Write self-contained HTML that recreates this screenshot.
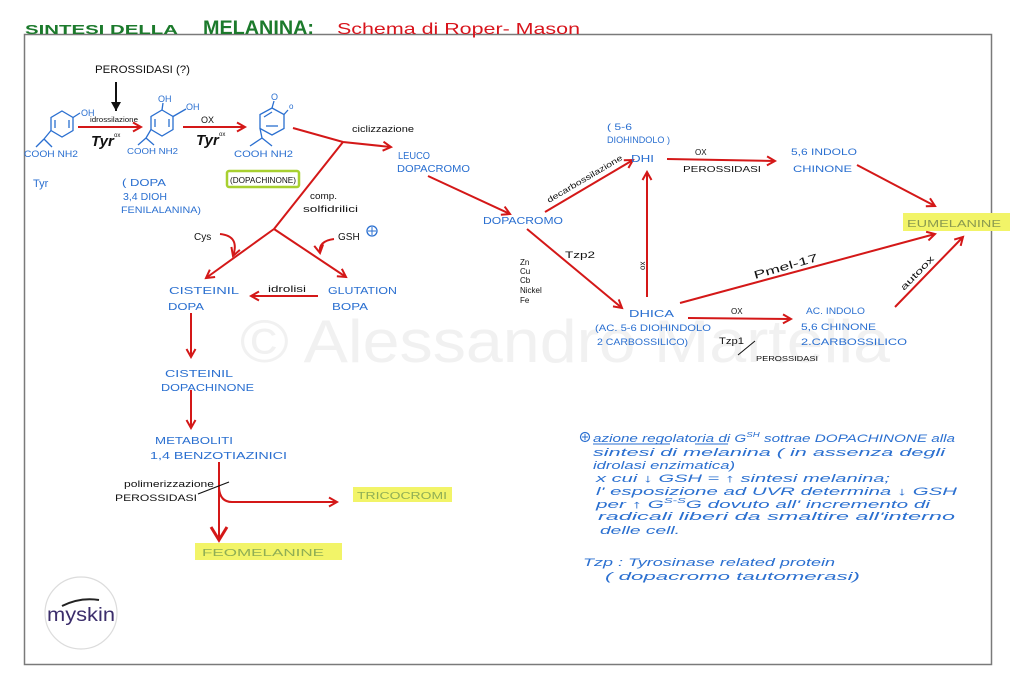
<!DOCTYPE html>
<html><head><meta charset="utf-8"><style>
html,body{margin:0;padding:0;background:#fff;}
svg{display:block;}
text{font-family:"Liberation Sans",sans-serif;}
.b{fill:#2a6fd0;}
.k{fill:#111;}
.r{stroke:#d41818;stroke-width:2;fill:none;}
.bl{stroke:#2a6fd0;stroke-width:1.3;fill:none;}
</style></head><body>
<svg width="1024" height="694" viewBox="0 0 1024 694" xmlns="http://www.w3.org/2000/svg">
<defs>
<marker id="a" markerWidth="12" markerHeight="12" refX="10" refY="6" orient="auto" markerUnits="userSpaceOnUse"><path d="M2,1.5 L10,6 L2,10.5" fill="none" stroke="#d41818" stroke-width="2"/></marker>
<marker id="ab" markerWidth="20" markerHeight="20" refX="15" refY="10" orient="auto" markerUnits="userSpaceOnUse"><path d="M2,2 L15,10 L2,18" fill="none" stroke="#d41818" stroke-width="3"/></marker>
<marker id="k" markerWidth="12" markerHeight="12" refX="10" refY="6" orient="auto" markerUnits="userSpaceOnUse"><path d="M1,1 L10,6 L1,11 Z" fill="#111"/></marker>
</defs>
<rect width="1024" height="694" fill="#fff"/>
<!-- watermark -->
<text x="240" y="362" font-size="60" fill="#f1f1f1" textLength="650" lengthAdjust="spacingAndGlyphs">© Alessandro Martella</text>
<!-- frame -->
<rect x="24.5" y="34.5" width="967" height="630" fill="none" stroke="#7a7a7a" stroke-width="1.5"/>
<!-- title -->
<text x="25" y="34" font-size="13" font-weight="bold" fill="#1c7a2c" textLength="153" lengthAdjust="spacingAndGlyphs">SINTESI DELLA</text>
<text x="203" y="34" font-size="19" font-weight="bold" fill="#1c7a2c" textLength="111" lengthAdjust="spacingAndGlyphs">MELANINA:</text>
<text x="337" y="34" font-size="16" fill="#d8141c" textLength="243" lengthAdjust="spacingAndGlyphs">Schema di Roper- Mason</text>

<!-- PEROSSIDASI (?) -->
<text x="95" y="73" font-size="11" class="k" textLength="95" lengthAdjust="spacingAndGlyphs">PEROSSIDASI (?)</text>
<line x1="116" y1="82" x2="116" y2="111" stroke="#111" stroke-width="2" marker-end="url(#k)"/>

<!-- Tyr molecule -->
<g class="bl">
<polygon points="62,111 73,117.5 73,130.5 62,137 51,130.5 51,117.5"/>
<line x1="55" y1="120" x2="55" y2="128"/><line x1="69" y1="120" x2="69" y2="128"/>
<line x1="73" y1="117.5" x2="80" y2="113"/>
<line x1="51" y1="130.5" x2="44" y2="139"/><line x1="44" y1="139" x2="36" y2="147"/><line x1="44" y1="139" x2="52" y2="147"/>
</g>
<text x="81" y="116" font-size="9" class="b">OH</text>
<text x="24" y="157" font-size="9" class="b" textLength="54" lengthAdjust="spacingAndGlyphs">COOH NH2</text>
<line x1="78" y1="127" x2="141" y2="127" class="r" marker-end="url(#a)"/>
<text x="90" y="122" font-size="7" class="k" textLength="48" lengthAdjust="spacingAndGlyphs">idrossilazione</text>
<text x="91" y="146" font-size="15" font-style="italic" font-weight="bold" class="k">Tyr</text>
<text x="114" y="137" font-size="6" class="k">ox</text>

<!-- DOPA molecule -->
<g class="bl">
<polygon points="162,110 173,116.5 173,129.5 162,136 151,129.5 151,116.5"/>
<line x1="155" y1="119" x2="155" y2="127"/><line x1="169" y1="119" x2="169" y2="127"/>
<line x1="162" y1="110" x2="163" y2="103"/>
<line x1="173" y1="116.5" x2="186" y2="109"/>
<line x1="151" y1="129.5" x2="146" y2="138"/><line x1="146" y1="138" x2="138" y2="145"/><line x1="146" y1="138" x2="154" y2="145"/>
</g>
<text x="158" y="102" font-size="9" class="b">OH</text>
<text x="186" y="110" font-size="9" class="b">OH</text>
<text x="127" y="154" font-size="8" class="b" textLength="51" lengthAdjust="spacingAndGlyphs">COOH NH2</text>
<line x1="183" y1="127" x2="245" y2="127" class="r" marker-end="url(#a)"/>
<text x="201" y="123" font-size="9" class="k">OX</text>
<text x="196" y="145" font-size="15" font-style="italic" font-weight="bold" class="k">Tyr</text>
<text x="219" y="136" font-size="6" class="k">ox</text>

<!-- Dopachinone molecule -->
<g class="bl">
<polygon points="272,108 284,114.5 284,128.5 272,135 260,128.5 260,114.5"/>
<line x1="264" y1="117" x2="272" y2="112"/><line x1="266" y1="126" x2="278" y2="126"/>
<line x1="272" y1="108" x2="274" y2="101"/>
<line x1="284" y1="114.5" x2="288" y2="110"/>
<line x1="260" y1="128.5" x2="262" y2="138"/><line x1="262" y1="138" x2="250" y2="146"/><line x1="262" y1="138" x2="272" y2="146"/>
</g>
<text x="271" y="100" font-size="9" class="b">O</text>
<text x="289" y="109" font-size="8" class="b">o</text>
<text x="234" y="157" font-size="9" class="b" textLength="59" lengthAdjust="spacingAndGlyphs">COOH NH2</text>

<!-- labels below molecules -->
<text x="33" y="187" font-size="11" class="b">Tyr</text>
<text x="122" y="186" font-size="10" class="b" textLength="44" lengthAdjust="spacingAndGlyphs">( DOPA</text>
<text x="123" y="200" font-size="10" class="b" textLength="44" lengthAdjust="spacingAndGlyphs">3,4 DIOH</text>
<text x="121" y="213" font-size="9" class="b" textLength="80" lengthAdjust="spacingAndGlyphs">FENILALANINA)</text>
<rect x="227" y="171" width="72" height="16" rx="2" fill="none" stroke="#a8d030" stroke-width="2.5"/>
<text x="230" y="183" font-size="8" class="k" textLength="66" lengthAdjust="spacingAndGlyphs">(DOPACHINONE)</text>

<!-- dopachinone -> leuco / branch -->
<polyline points="293,128 343,142 391,147" class="r" marker-end="url(#a)"/>
<text x="352" y="132" font-size="9" class="k" textLength="62" lengthAdjust="spacingAndGlyphs">ciclizzazione</text>
<line x1="343" y1="142" x2="274" y2="229" class="r"/>
<text x="310" y="199" font-size="9" class="k" textLength="27" lengthAdjust="spacingAndGlyphs">comp.</text>
<text x="303" y="212" font-size="9" class="k" textLength="55" lengthAdjust="spacingAndGlyphs">solfidrilici</text>
<line x1="274" y1="229" x2="206" y2="278" class="r" marker-end="url(#a)"/>
<line x1="274" y1="229" x2="346" y2="277" class="r" marker-end="url(#a)"/>
<text x="194" y="240" font-size="10" class="k">Cys</text>
<path d="M220,234 Q240,236 233,256" class="r" marker-end="url(#a)"/>
<text x="338" y="240" font-size="10" class="k">GSH</text>
<circle cx="372" cy="231" r="5" fill="none" stroke="#2a6fd0" stroke-width="1.3"/>
<line x1="372" y1="227" x2="372" y2="235" stroke="#2a6fd0" stroke-width="1"/><line x1="368" y1="231" x2="376" y2="231" stroke="#2a6fd0" stroke-width="1"/>
<path d="M334,239 Q318,241 320,253" class="r" marker-end="url(#a)"/>

<text x="169" y="294" font-size="10" class="b" textLength="70" lengthAdjust="spacingAndGlyphs">CISTEINIL</text>
<text x="168" y="310" font-size="10" class="b" textLength="36" lengthAdjust="spacingAndGlyphs">DOPA</text>
<text x="328" y="294" font-size="10" class="b" textLength="69" lengthAdjust="spacingAndGlyphs">GLUTATION</text>
<text x="332" y="310" font-size="10" class="b" textLength="36" lengthAdjust="spacingAndGlyphs">BOPA</text>
<line x1="318" y1="296" x2="251" y2="296" class="r" marker-end="url(#a)"/>
<text x="268" y="292" font-size="9" class="k" textLength="38" lengthAdjust="spacingAndGlyphs">idrolisi</text>
<line x1="191" y1="313" x2="191" y2="357" class="r" marker-end="url(#a)"/>
<text x="165" y="377" font-size="10" class="b" textLength="68" lengthAdjust="spacingAndGlyphs">CISTEINIL</text>
<text x="161" y="391" font-size="10" class="b" textLength="93" lengthAdjust="spacingAndGlyphs">DOPACHINONE</text>
<line x1="191" y1="390" x2="191" y2="428" class="r" marker-end="url(#a)"/>
<text x="155" y="444" font-size="10" class="b" textLength="78" lengthAdjust="spacingAndGlyphs">METABOLITI</text>
<text x="150" y="459" font-size="10" class="b" textLength="137" lengthAdjust="spacingAndGlyphs">1,4 BENZOTIAZINICI</text>
<line x1="219" y1="462" x2="219" y2="540" class="r" stroke-width="2.2" marker-end="url(#ab)"/>
<path d="M219,488 Q220,502 232,502 L337,502" class="r" marker-end="url(#a)"/>
<text x="124" y="487" font-size="9" class="k" textLength="90" lengthAdjust="spacingAndGlyphs">polimerizzazione</text>
<text x="115" y="501" font-size="9" class="k" textLength="82" lengthAdjust="spacingAndGlyphs">PEROSSIDASI</text>
<line x1="198" y1="494" x2="229" y2="482" stroke="#111" stroke-width="1.2"/>
<rect x="353" y="487" width="99" height="15" fill="#f2f468"/>
<text x="357" y="499" font-size="10" fill="#8fae55" textLength="90" lengthAdjust="spacingAndGlyphs">TRICOCROMI</text>
<rect x="195" y="543" width="147" height="17" fill="#f2f468"/>
<text x="202" y="556" font-size="10" fill="#8fae55" textLength="122" lengthAdjust="spacingAndGlyphs">FEOMELANINE</text>

<!-- logo -->
<circle cx="81" cy="613" r="36" fill="#fff" stroke="#dcdcdc" stroke-width="1.2"/>
<path d="M62,606 Q80,597 99,600" fill="none" stroke="#222" stroke-width="2"/>
<text x="47" y="621" font-size="19" fill="#3b2d6b" textLength="68" lengthAdjust="spacingAndGlyphs">myskin</text>

<!-- right side -->
<text x="398" y="159" font-size="10" class="b" textLength="32" lengthAdjust="spacingAndGlyphs">LEUCO</text>
<text x="397" y="172" font-size="10" class="b" textLength="73" lengthAdjust="spacingAndGlyphs">DOPACROMO</text>
<line x1="428" y1="176" x2="510" y2="214" class="r" marker-end="url(#a)"/>
<text x="483" y="224" font-size="10" class="b" textLength="80" lengthAdjust="spacingAndGlyphs">DOPACROMO</text>
<line x1="545" y1="212" x2="633" y2="160" class="r" marker-end="url(#a)"/>
<text x="0" y="0" font-size="8" class="k" textLength="86" lengthAdjust="spacingAndGlyphs" transform="translate(549,203) rotate(-30.5)">decarbossilazione</text>
<text x="607" y="130" font-size="9" class="b" textLength="25" lengthAdjust="spacingAndGlyphs">( 5-6</text>
<text x="607" y="143" font-size="9" class="b" textLength="63" lengthAdjust="spacingAndGlyphs">DIOHINDOLO )</text>
<text x="631" y="162" font-size="10" class="b" textLength="23" lengthAdjust="spacingAndGlyphs">DHI</text>
<line x1="667" y1="159" x2="775" y2="161" class="r" marker-end="url(#a)"/>
<text x="695" y="155" font-size="8" class="k">OX</text>
<text x="683" y="172" font-size="8" class="k" textLength="78" lengthAdjust="spacingAndGlyphs">PEROSSIDASI</text>
<text x="791" y="155" font-size="9" class="b" textLength="66" lengthAdjust="spacingAndGlyphs">5,6 INDOLO</text>
<text x="793" y="172" font-size="9" class="b" textLength="59" lengthAdjust="spacingAndGlyphs">CHINONE</text>
<line x1="857" y1="165" x2="935" y2="206" class="r" marker-end="url(#a)"/>
<rect x="903" y="213" width="107" height="18" fill="#f2f468"/>
<text x="907" y="227" font-size="10" fill="#8a9a50" textLength="94" lengthAdjust="spacingAndGlyphs">EUMELANINE</text>

<line x1="527" y1="229" x2="622" y2="308" class="r" marker-end="url(#a)"/>
<text x="565" y="258" font-size="9" class="k" textLength="30" lengthAdjust="spacingAndGlyphs">Tzp2</text>
<text x="520" y="265" font-size="8" class="k">Zn</text>
<text x="520" y="274" font-size="8" class="k">Cu</text>
<text x="520" y="283" font-size="8" class="k">Cb</text>
<text x="520" y="293" font-size="8" class="k">Nickel</text>
<text x="520" y="303" font-size="8" class="k">Fe</text>

<text x="629" y="317" font-size="10" class="b" textLength="45" lengthAdjust="spacingAndGlyphs">DHICA</text>
<text x="595" y="331" font-size="9" class="b" textLength="116" lengthAdjust="spacingAndGlyphs">(AC. 5-6 DIOHINDOLO</text>
<text x="597" y="345" font-size="9" class="b" textLength="91" lengthAdjust="spacingAndGlyphs">2 CARBOSSILICO)</text>
<line x1="647" y1="297" x2="647" y2="172" class="r" marker-end="url(#a)"/>
<text x="0" y="0" font-size="8" class="k" transform="translate(645,270) rotate(-90)">ox</text>
<line x1="680" y1="303" x2="935" y2="234" class="r" marker-end="url(#a)"/>
<text x="0" y="0" font-size="11" class="k" textLength="66" lengthAdjust="spacingAndGlyphs" transform="translate(755,279) rotate(-16)">Pmel-17</text>
<line x1="688" y1="318" x2="791" y2="319" class="r" marker-end="url(#a)"/>
<text x="731" y="314" font-size="8" class="k">OX</text>
<text x="719" y="344" font-size="9" class="k" textLength="25" lengthAdjust="spacingAndGlyphs">Tzp1</text>
<line x1="738" y1="355" x2="755" y2="341" stroke="#111" stroke-width="1"/>
<text x="756" y="361" font-size="7" class="k" textLength="62" lengthAdjust="spacingAndGlyphs">PEROSSIDASI</text>
<text x="806" y="314" font-size="9" class="b" textLength="59" lengthAdjust="spacingAndGlyphs">AC. INDOLO</text>
<text x="801" y="330" font-size="9" class="b" textLength="75" lengthAdjust="spacingAndGlyphs">5,6 CHINONE</text>
<text x="801" y="345" font-size="9" class="b" textLength="106" lengthAdjust="spacingAndGlyphs">2.CARBOSSILICO</text>
<line x1="895" y1="307" x2="963" y2="237" class="r" marker-end="url(#a)"/>
<text x="0" y="0" font-size="9" class="k" textLength="44" lengthAdjust="spacingAndGlyphs" transform="translate(904,291) rotate(-46)">autoox</text>

<!-- note -->
<circle cx="585" cy="437" r="4.5" fill="none" stroke="#2a6fd0" stroke-width="1.2"/>
<line x1="585" y1="434" x2="585" y2="440" stroke="#2a6fd0" stroke-width="1"/><line x1="582" y1="437" x2="588" y2="437" stroke="#2a6fd0" stroke-width="1"/>
<g font-size="11" font-style="italic" fill="#2a6fd0">
<text x="593" y="442" textLength="362" lengthAdjust="spacingAndGlyphs">azione regolatoria di G<tspan font-size="7" dy="-5">SH</tspan><tspan dy="5"> sottrae DOPACHINONE alla</tspan></text>
<text x="593" y="456" textLength="352" lengthAdjust="spacingAndGlyphs">sintesi di melanina ( in assenza degli</text>
<text x="593" y="469" textLength="142" lengthAdjust="spacingAndGlyphs">idrolasi enzimatica)</text>
<text x="596" y="482" textLength="294" lengthAdjust="spacingAndGlyphs">x cui ↓ GSH = ↑ sintesi melanina;</text>
<text x="596" y="495" textLength="361" lengthAdjust="spacingAndGlyphs">l' esposizione ad UVR determina ↓ GSH</text>
<text x="596" y="508" textLength="334" lengthAdjust="spacingAndGlyphs">per ↑ G<tspan font-size="7" dy="-5">S-S</tspan><tspan dy="5">G dovuto all' incremento di</tspan></text>
<text x="598" y="520" textLength="357" lengthAdjust="spacingAndGlyphs">radicali liberi da smaltire all'interno</text>
<text x="600" y="534" textLength="80" lengthAdjust="spacingAndGlyphs">delle cell.</text>
<text x="583" y="566" textLength="252" lengthAdjust="spacingAndGlyphs">Tzp : Tyrosinase related protein</text>
<text x="605" y="580" textLength="255" lengthAdjust="spacingAndGlyphs">( dopacromo tautomerasi)</text>
</g>
<line x1="593" y1="444" x2="670" y2="444" stroke="#2a6fd0" stroke-width="1"/>
<line x1="695" y1="444" x2="728" y2="444" stroke="#2a6fd0" stroke-width="1"/>
</svg>
</body></html>
